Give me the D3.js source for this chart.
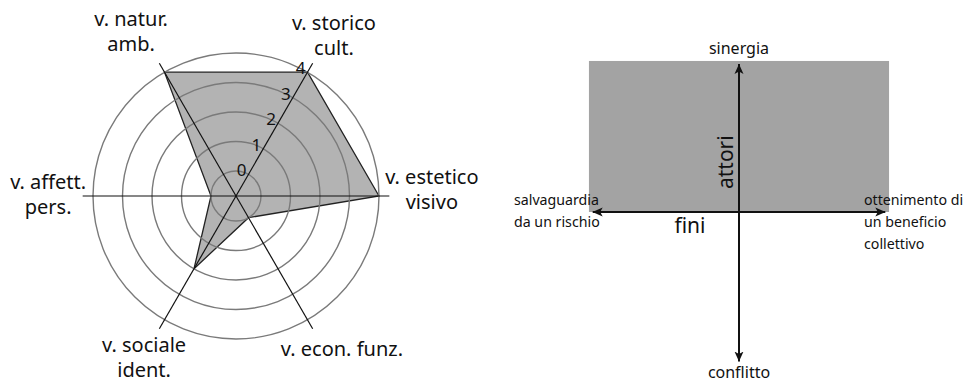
<!DOCTYPE html>
<html>
<head>
<meta charset="utf-8">
<script src="https://cdn.jsdelivr.net/npm/d3@7"></script>
<style>
  html, body { margin: 0; padding: 0; background: #fff; }
  svg text { font-family: 'Noto Sans', sans-serif; fill: #111; }
</style>
</head>
<body>
<div id="chart"></div>
<script>
// radar values (0-4 scale), axes go counter-clockwise from the right
const axisLabels = [
  ['v. estetico', 'visivo'],
  ['v. storico', 'cult.'],
  ['v. natur.', 'amb.'],
  ['v. affett.', 'pers.'],
  ['v. sociale', 'ident.'],
  ['v. econ. funz.']
];
const axisValues = [4, 4, 4, 0, 2, 0];
const ringTicks = [0, 1, 2, 3, 4];

// quadrant diagram
const horizLabels = [['salvaguardia', 'da un rischio'], ['ottenimento di', 'un beneficio', 'collettivo']];
const vertLabels = ['sinergia', 'conflitto'];
const axisNames = { x: 'fini', y: 'attori' };
const regionX = [-1, 1];
const regionY = [0, 1];

const width = 965;
const height = 383;

const svg = d3.select('#chart')
  .append('svg')
  .attr('width', width)
  .attr('height', height);

// ---------- radar ----------
const cx = 236;
const cy = 196;
const r = d3.scaleLinear().domain([0, 4]).range([25, 143]);
const axisEnd = 4.35;

// math angle (ccw from right) -> d3 radial angle (cw from top)
const angleOf = i => Math.PI / 2 - i * Math.PI / 3;
const pt = (i, v) => {
  const a = i * Math.PI / 3;
  return [cx + r(v) * Math.cos(a), cy - r(v) * Math.sin(a)];
};

const radar = svg.append('g');

const line = d3.lineRadial()
  .angle((d, i) => angleOf(i))
  .radius(d => r(d))
  .curve(d3.curveLinearClosed);

radar.append('path')
  .attr('transform', `translate(${cx},${cy})`)
  .attr('d', line(axisValues))
  .attr('fill', '#b3b3b3')
  .attr('stroke', '#222')
  .attr('stroke-width', 1.3)
  .attr('stroke-linejoin', 'miter');

radar.selectAll('circle.ring')
  .data(ringTicks)
  .enter()
  .append('circle')
  .attr('class', 'ring')
  .attr('cx', cx)
  .attr('cy', cy)
  .attr('r', d => r(d))
  .attr('fill', 'none')
  .attr('stroke', '#7a7a7a')
  .attr('stroke-width', 1.4);

radar.selectAll('line.axis')
  .data(axisLabels)
  .enter()
  .append('line')
  .attr('class', 'axis')
  .attr('x1', cx)
  .attr('y1', cy)
  .attr('x2', (d, i) => pt(i, axisEnd)[0])
  .attr('y2', (d, i) => pt(i, axisEnd)[1])
  .attr('stroke', '#111')
  .attr('stroke-width', 1.2);

// tick numbers along the second axis
radar.selectAll('text.tick')
  .data(ringTicks)
  .enter()
  .append('text')
  .attr('class', 'tick')
  .attr('x', d => pt(1, d)[0] - 2)
  .attr('y', d => pt(1, d)[1] + 2)
  .attr('text-anchor', 'end')
  .attr('font-size', 17)
  .text(d => d);

// axis labels, placed on a radius beyond the axis end with small nudges
const labelNudge = [[16, -7], [8, -5], [-15, -9], [-8, -2], [-2, 6], [16, -3]];
const lineGap = 25;
axisLabels.forEach((lines, i) => {
  const p = pt(i, 5.25);
  const x = p[0] + labelNudge[i][0];
  const y0 = p[1] + labelNudge[i][1] - (lines.length - 1) * lineGap / 2 + 7;
  const t = radar.append('text')
    .attr('text-anchor', 'middle')
    .attr('font-size', 20);
  lines.forEach((s, k) => {
    t.append('tspan').attr('x', x).attr('y', y0 + k * lineGap).text(s);
  });
});

// ---------- quadrant diagram ----------
const x = d3.scaleLinear().domain([-1.013, 1.013]).range([587, 891]);
const y = d3.scaleLinear().domain([-1.013, 1.013]).range([365, 59]);

const quad = svg.append('g');

quad.append('rect')
  .attr('x', x(regionX[0]))
  .attr('y', y(regionY[1]))
  .attr('width', x(regionX[1]) - x(regionX[0]))
  .attr('height', y(regionY[0]) - y(regionY[1]))
  .attr('fill', '#a3a3a3');

const defs = svg.append('defs');
defs.append('marker')
  .attr('id', 'arrow')
  .attr('viewBox', '0 0 10 10')
  .attr('refX', 10)
  .attr('refY', 5)
  .attr('markerWidth', 10)
  .attr('markerHeight', 10)
  .attr('markerUnits', 'userSpaceOnUse')
  .attr('orient', 'auto-start-reverse')
  .append('path')
  .attr('d', 'M0,0.5 L10,5 L0,9.5 L2.5,5 Z')
  .attr('fill', '#111');

quad.append('line')
  .attr('x1', x(-0.975)).attr('y1', y(0))
  .attr('x2', x(0.975)).attr('y2', y(0))
  .attr('stroke', '#111')
  .attr('stroke-width', 2)
  .attr('marker-start', 'url(#arrow)')
  .attr('marker-end', 'url(#arrow)');

quad.append('line')
  .attr('x1', x(0)).attr('y1', y(-0.99))
  .attr('x2', x(0)).attr('y2', y(0.98))
  .attr('stroke', '#111')
  .attr('stroke-width', 2)
  .attr('marker-start', 'url(#arrow)')
  .attr('marker-end', 'url(#arrow)');

quad.append('text')
  .attr('x', x(0))
  .attr('y', y(1) - 7)
  .attr('text-anchor', 'middle')
  .attr('font-size', 16)
  .text(vertLabels[0]);

quad.append('text')
  .attr('x', x(0))
  .attr('y', y(-1) + 15)
  .attr('text-anchor', 'middle')
  .attr('font-size', 16)
  .text(vertLabels[1]);

const sideGap = 22;
horizLabels.forEach((lines, i) => {
  const t = quad.append('text')
    .attr('font-size', 14.2);
  const x0 = i === 0 ? 514 : 864;
  lines.forEach((s, k) => {
    t.append('tspan').attr('x', x0).attr('y', y(0) - 7 + k * sideGap).text(s);
  });
});

quad.append('text')
  .attr('x', x(0) - 49)
  .attr('y', y(0) + 21)
  .attr('text-anchor', 'middle')
  .attr('font-size', 21)
  .text(axisNames.x);

quad.append('text')
  .attr('transform', `translate(${x(0) - 6},${y(0.33)}) rotate(-90)`)
  .attr('text-anchor', 'middle')
  .attr('font-size', 21)
  .text(axisNames.y);
</script>
</body>
</html>
